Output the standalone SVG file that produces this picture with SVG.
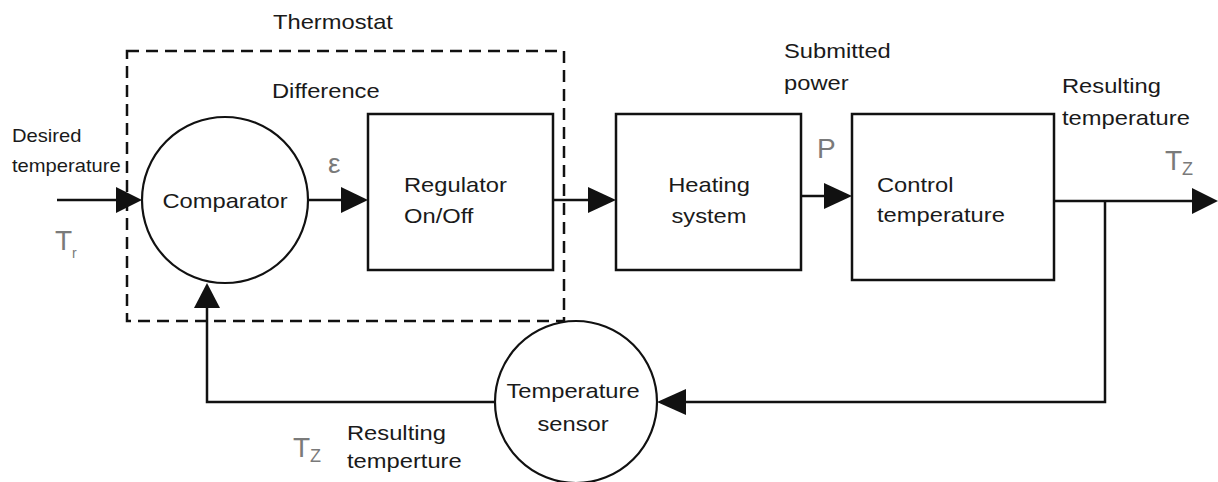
<svg xmlns="http://www.w3.org/2000/svg" width="1218" height="482" viewBox="0 0 1218 482">
<defs>
<style>
.t{font-family:"Liberation Sans",Arial,sans-serif;font-size:21px;fill:#1a1a1a}
.s{font-family:"Liberation Sans",Arial,sans-serif;font-size:18px;fill:#1a1a1a}
.g{font-family:"Liberation Sans",Arial,sans-serif;font-size:28px;fill:#7a7a7a}
.gs{font-size:18px}
.box{fill:#fff;stroke:#111;stroke-width:2.5}
.circ{fill:#fff;stroke:#111;stroke-width:2.2}
.ln{fill:none;stroke:#111;stroke-width:2.5}
.ah{fill:#111}
</style>
</defs>
<rect width="1218" height="482" fill="#fff"/>
<g id="thermostat">
<rect x="127" y="51" width="437" height="270" fill="none" stroke="#111" stroke-width="2.5" stroke-dasharray="12,7"/>
<text class="t" transform="matrix(1.13 0 0 1 273 29)">Thermostat</text>
<text class="t" transform="matrix(1.13 0 0 1 272 98)">Difference</text>
</g>
<g id="connectors">
<path class="ln" d="M57,200 H120"/>
<polygon class="ah" points="116,187 142,200 116,213"/>
<path class="ln" d="M309,200 H345"/>
<polygon class="ah" points="341,187 368,200 341,213"/>
<path class="ln" d="M553,200 H592"/>
<polygon class="ah" points="588,187 616,200 588,213"/>
<path class="ln" d="M801,196 H828"/>
<polygon class="ah" points="824,183 852,196 824,209"/>
<path class="ln" d="M1054,201 H1196"/>
<polygon class="ah" points="1192,188 1218,201 1192,214"/>
<path class="ln" d="M1105,201 V402 H682"/>
<polygon class="ah" points="686,389 657,402 686,415"/>
<path class="ln" d="M495,402 H207 V304"/>
<polygon class="ah" points="194,308 207,283 220,308"/>
</g>
<g id="comparator">
<circle class="circ" cx="225" cy="200" r="83"/>
<text class="t" text-anchor="middle" transform="matrix(1.13 0 0 1 225 208)">Comparator</text>
</g>
<g id="regulator">
<rect class="box" x="368" y="114" width="185" height="156"/>
<text class="t" transform="matrix(1.13 0 0 1 404 192)">Regulator</text>
<text class="t" transform="matrix(1.13 0 0 1 404 223)">On/Off</text>
</g>
<g id="heating">
<rect class="box" x="616" y="114" width="185" height="156"/>
<text class="t" text-anchor="middle" transform="matrix(1.13 0 0 1 709 192)">Heating</text>
<text class="t" text-anchor="middle" transform="matrix(1.13 0 0 1 709 223)">system</text>
</g>
<g id="control">
<rect class="box" x="852" y="114" width="202" height="166"/>
<text class="t" transform="matrix(1.13 0 0 1 877 192)">Control</text>
<text class="t" transform="matrix(1.13 0 0 1 877 222)">temperature</text>
</g>
<g id="sensor">
<circle class="circ" cx="576" cy="402" r="81"/>
<text class="t" text-anchor="middle" transform="matrix(1.13 0 0 1 573 398)">Temperature</text>
<text class="t" text-anchor="middle" transform="matrix(1.13 0 0 1 573 431)">sensor</text>
</g>
<g id="labels">
<text class="s" transform="matrix(1.12 0 0 1 12 142)">Desired</text>
<text class="s" transform="matrix(1.12 0 0 1 12 172)">temperature</text>
<text class="g" x="55" y="250">T<tspan font-size="14" dy="8">r</tspan></text>
<text class="g" x="328" y="173" font-size="22">ε</text>
<text class="t" transform="matrix(1.13 0 0 1 784 58)">Submitted</text>
<text class="t" transform="matrix(1.13 0 0 1 784 90)">power</text>
<text class="g" x="817" y="158">P</text>
<text class="t" transform="matrix(1.13 0 0 1 1062 93)">Resulting</text>
<text class="t" transform="matrix(1.13 0 0 1 1062 125)">temperature</text>
<text class="g" x="1165" y="170">T<tspan class="gs" dy="5">Z</tspan></text>
<text class="g" x="293" y="457">T<tspan class="gs" dy="5">Z</tspan></text>
<text class="t" transform="matrix(1.13 0 0 1 347 440)">Resulting</text>
<text class="t" transform="matrix(1.13 0 0 1 347 468)">temperture</text>
</g>
</svg>
